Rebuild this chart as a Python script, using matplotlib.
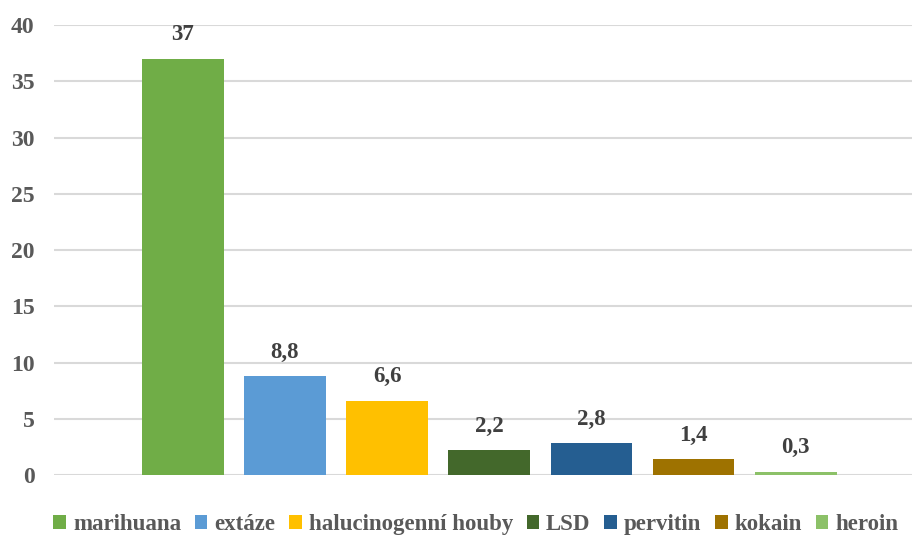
import numpy as np
import matplotlib.pyplot as plt

plt.rcParams['font.family'] = 'serif'
plt.rcParams['font.serif'] = ['Liberation Serif', 'Times New Roman', 'DejaVu Serif']
plt.rcParams['font.weight'] = 'bold'

categories = ['marihuana', 'extáze', 'halucinogenní houby', 'LSD', 'pervitin', 'kokain', 'heroin']
values = [37, 8.8, 6.6, 2.2, 2.8, 1.4, 0.3]
labels = ['37', '8,8', '6,6', '2,2', '2,8', '1,4', '0,3']
colors = ['#70AD47', '#5B9BD5', '#FFC000', '#43682B', '#255E91', '#9E7200', '#8CC168']

fig = plt.figure(figsize=(9.15, 5.37), dpi=100)
ax = fig.add_axes([0.059, 0.1155, 0.938, 0.8375])

x = np.arange(len(categories))
for i in range(len(categories)):
    ax.bar(x[i], values[i], 0.8, color=colors[i], label=categories[i], zorder=2)
    ax.text(x[i], values[i] + 1.2, labels[i], ha='center', va='bottom',
            fontsize=16.5, fontweight='bold', color='#404040')

ax.set_xlim(-1.26, 7.14)
ax.set_ylim(0, 40)
ax.set_yticks(range(0, 41, 5))
ax.set_xticks([])
ax.yaxis.grid(True, color='#d9d9d9', linewidth=1.5, zorder=0)
ax.set_axisbelow(True)
for s in ax.spines.values():
    s.set_visible(False)
ax.tick_params(axis='y', length=0, labelsize=17, labelcolor='#595959', pad=14)
for t in ax.get_yticklabels():
    t.set_fontweight('bold')

# legend sits at the very bottom edge
fig.legend(loc='lower center', bbox_to_anchor=(0.52, -0.035), ncol=7, frameon=False,
           fontsize=16.5, handlelength=0.55, handleheight=0.6, handletextpad=0.3,
           columnspacing=0.6, labelcolor='#595959')

plt.savefig('out.png', dpi=100)
